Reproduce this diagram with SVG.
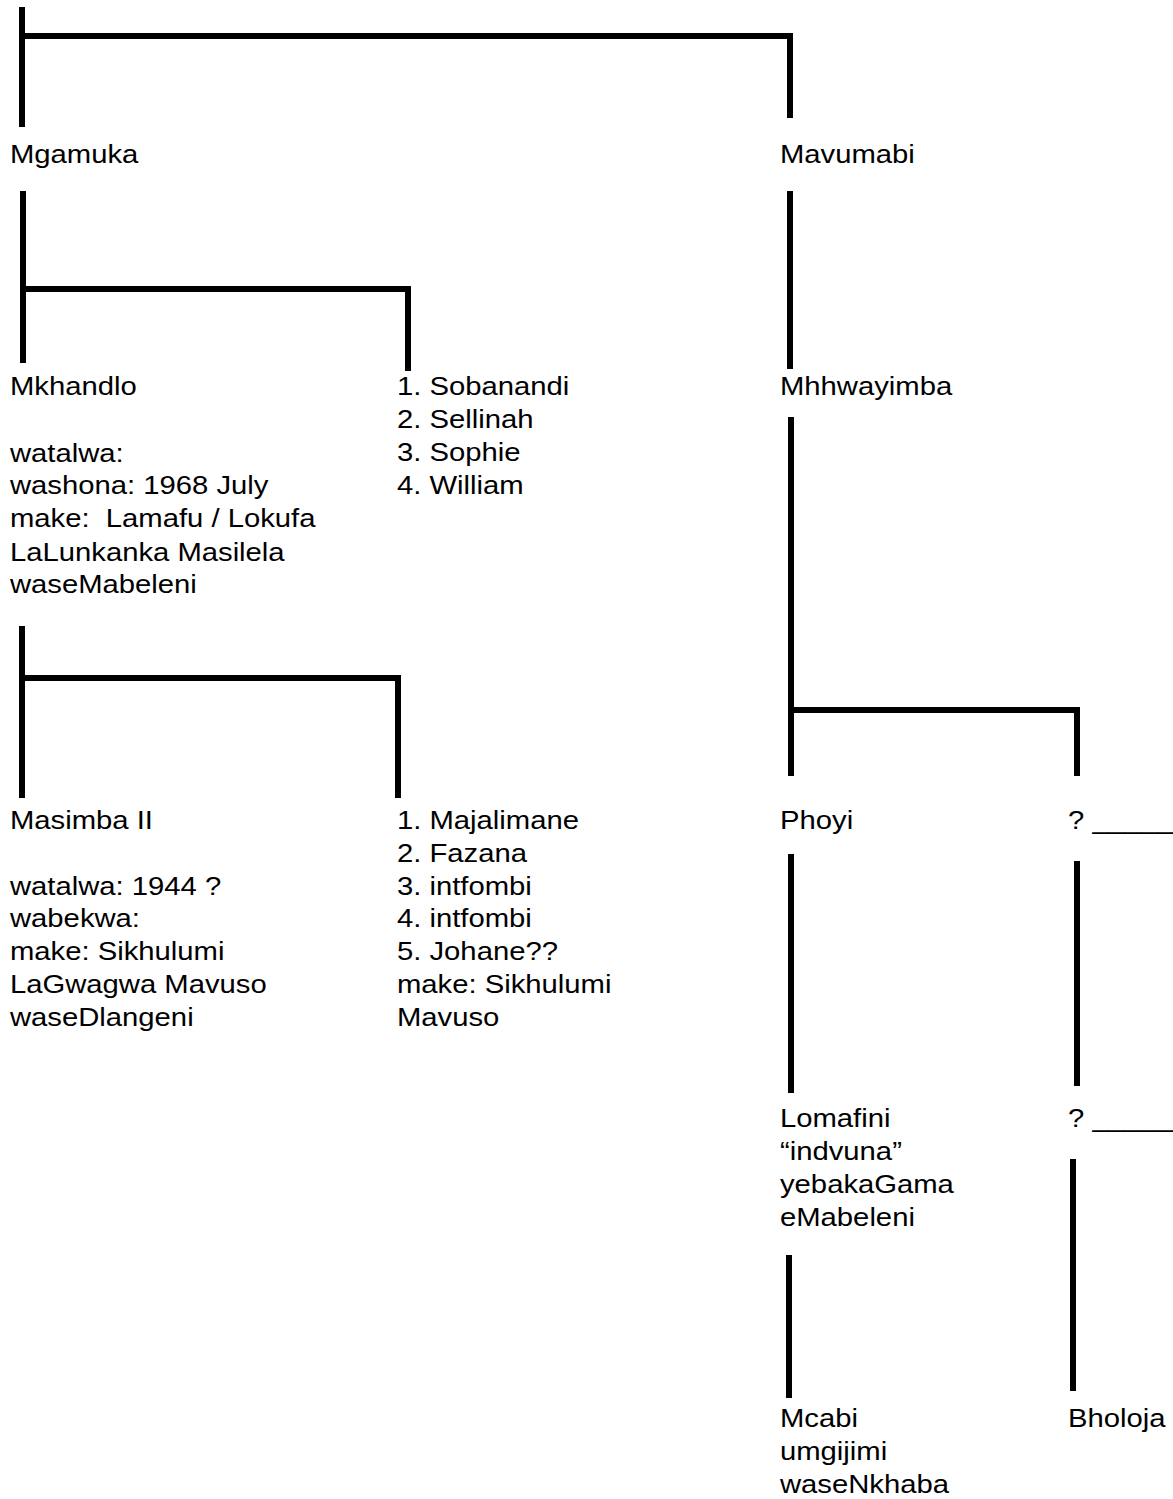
<svg xmlns="http://www.w3.org/2000/svg" width="1173" height="1499" viewBox="0 0 1173 1499">
  <style>
    text { font-family: "Liberation Sans", Arial, sans-serif; font-size: 25.5px; fill: #000; }
    .link { fill: none; stroke: #000; stroke-width: 6; stroke-linecap: butt; stroke-linejoin: miter; }
  </style>
  <rect width="1173" height="1499" fill="#fff"/>

  <!-- family tree lines -->
  <g id="connectors">
    <path class="link" d="M22 7 V127"/>
    <path class="link" d="M22 36 H790 V118"/>
    <path class="link" d="M23 191 V363"/>
    <path class="link" d="M23 289 H408 V371"/>
    <path class="link" d="M790 191 V369"/>
    <path class="link" d="M791 417 V776"/>
    <path class="link" d="M791 710 H1077 V776"/>
    <path class="link" d="M22 626 V798"/>
    <path class="link" d="M22 678 H398 V798"/>
    <path class="link" d="M791 854 V1093"/>
    <path class="link" d="M1077 861 V1086"/>
    <path class="link" d="M789 1255 V1398"/>
    <path class="link" d="M1073 1159 V1391"/>
  </g>

  <!-- people; text is widened horizontally -->
  <g id="mgamuka" transform="translate(10 163) scale(1.147 1)">
    <text x="0" y="0">Mgamuka</text>
  </g>
  <g id="mavumabi" transform="translate(780 163) scale(1.147 1)">
    <text x="0" y="0">Mavumabi</text>
  </g>
  <g id="mkhandlo" transform="translate(10 395) scale(1.147 1)">
    <text x="0" y="0">Mkhandlo</text>
    <text x="0" y="67">watalwa:</text>
    <text x="0" y="99">washona: 1968 July</text>
    <text x="0" y="132" xml:space="preserve">make:  Lamafu / Lokufa</text>
    <text x="0" y="166">LaLunkanka Masilela</text>
    <text x="0" y="198">waseMabeleni</text>
  </g>
  <g id="mkhandlo-siblings" transform="translate(397 395) scale(1.147 1)">
    <text x="0" y="0">1. Sobanandi</text>
    <text x="0" y="33">2. Sellinah</text>
    <text x="0" y="66">3. Sophie</text>
    <text x="0" y="99">4. William</text>
  </g>
  <g id="mhhwayimba" transform="translate(780 395) scale(1.147 1)">
    <text x="0" y="0">Mhhwayimba</text>
  </g>
  <g id="masimba" transform="translate(10 829) scale(1.147 1)">
    <text x="0" y="0">Masimba II</text>
    <text x="0" y="66">watalwa: 1944 ?</text>
    <text x="0" y="98">wabekwa:</text>
    <text x="0" y="131">make: Sikhulumi</text>
    <text x="0" y="164">LaGwagwa Mavuso</text>
    <text x="0" y="197">waseDlangeni</text>
  </g>
  <g id="masimba-siblings" transform="translate(397 829) scale(1.147 1)">
    <text x="0" y="0">1. Majalimane</text>
    <text x="0" y="33">2. Fazana</text>
    <text x="0" y="66">3. intfombi</text>
    <text x="0" y="98">4. intfombi</text>
    <text x="0" y="131">5. Johane??</text>
    <text x="0" y="164">make: Sikhulumi</text>
    <text x="0" y="197">Mavuso</text>
  </g>
  <g id="phoyi" transform="translate(780 829) scale(1.147 1)">
    <text x="0" y="0">Phoyi</text>
  </g>
  <g id="unknown-1" transform="translate(1068 829) scale(1.147 1)">
    <text x="0" y="0">? _____</text>
  </g>
  <g id="lomafini" transform="translate(780 1127) scale(1.147 1)">
    <text x="0" y="0">Lomafini</text>
    <text x="0" y="33">“indvuna”</text>
    <text x="0" y="66">yebakaGama</text>
    <text x="0" y="99">eMabeleni</text>
  </g>
  <g id="unknown-2" transform="translate(1068 1127) scale(1.147 1)">
    <text x="0" y="0">? _____</text>
  </g>
  <g id="mcabi" transform="translate(780 1427) scale(1.147 1)">
    <text x="0" y="0">Mcabi</text>
    <text x="0" y="33">umgijimi</text>
    <text x="0" y="66">waseNkhaba</text>
  </g>
  <g id="bholoja" transform="translate(1068 1427) scale(1.147 1)">
    <text x="0" y="0">Bholoja</text>
  </g>
</svg>
